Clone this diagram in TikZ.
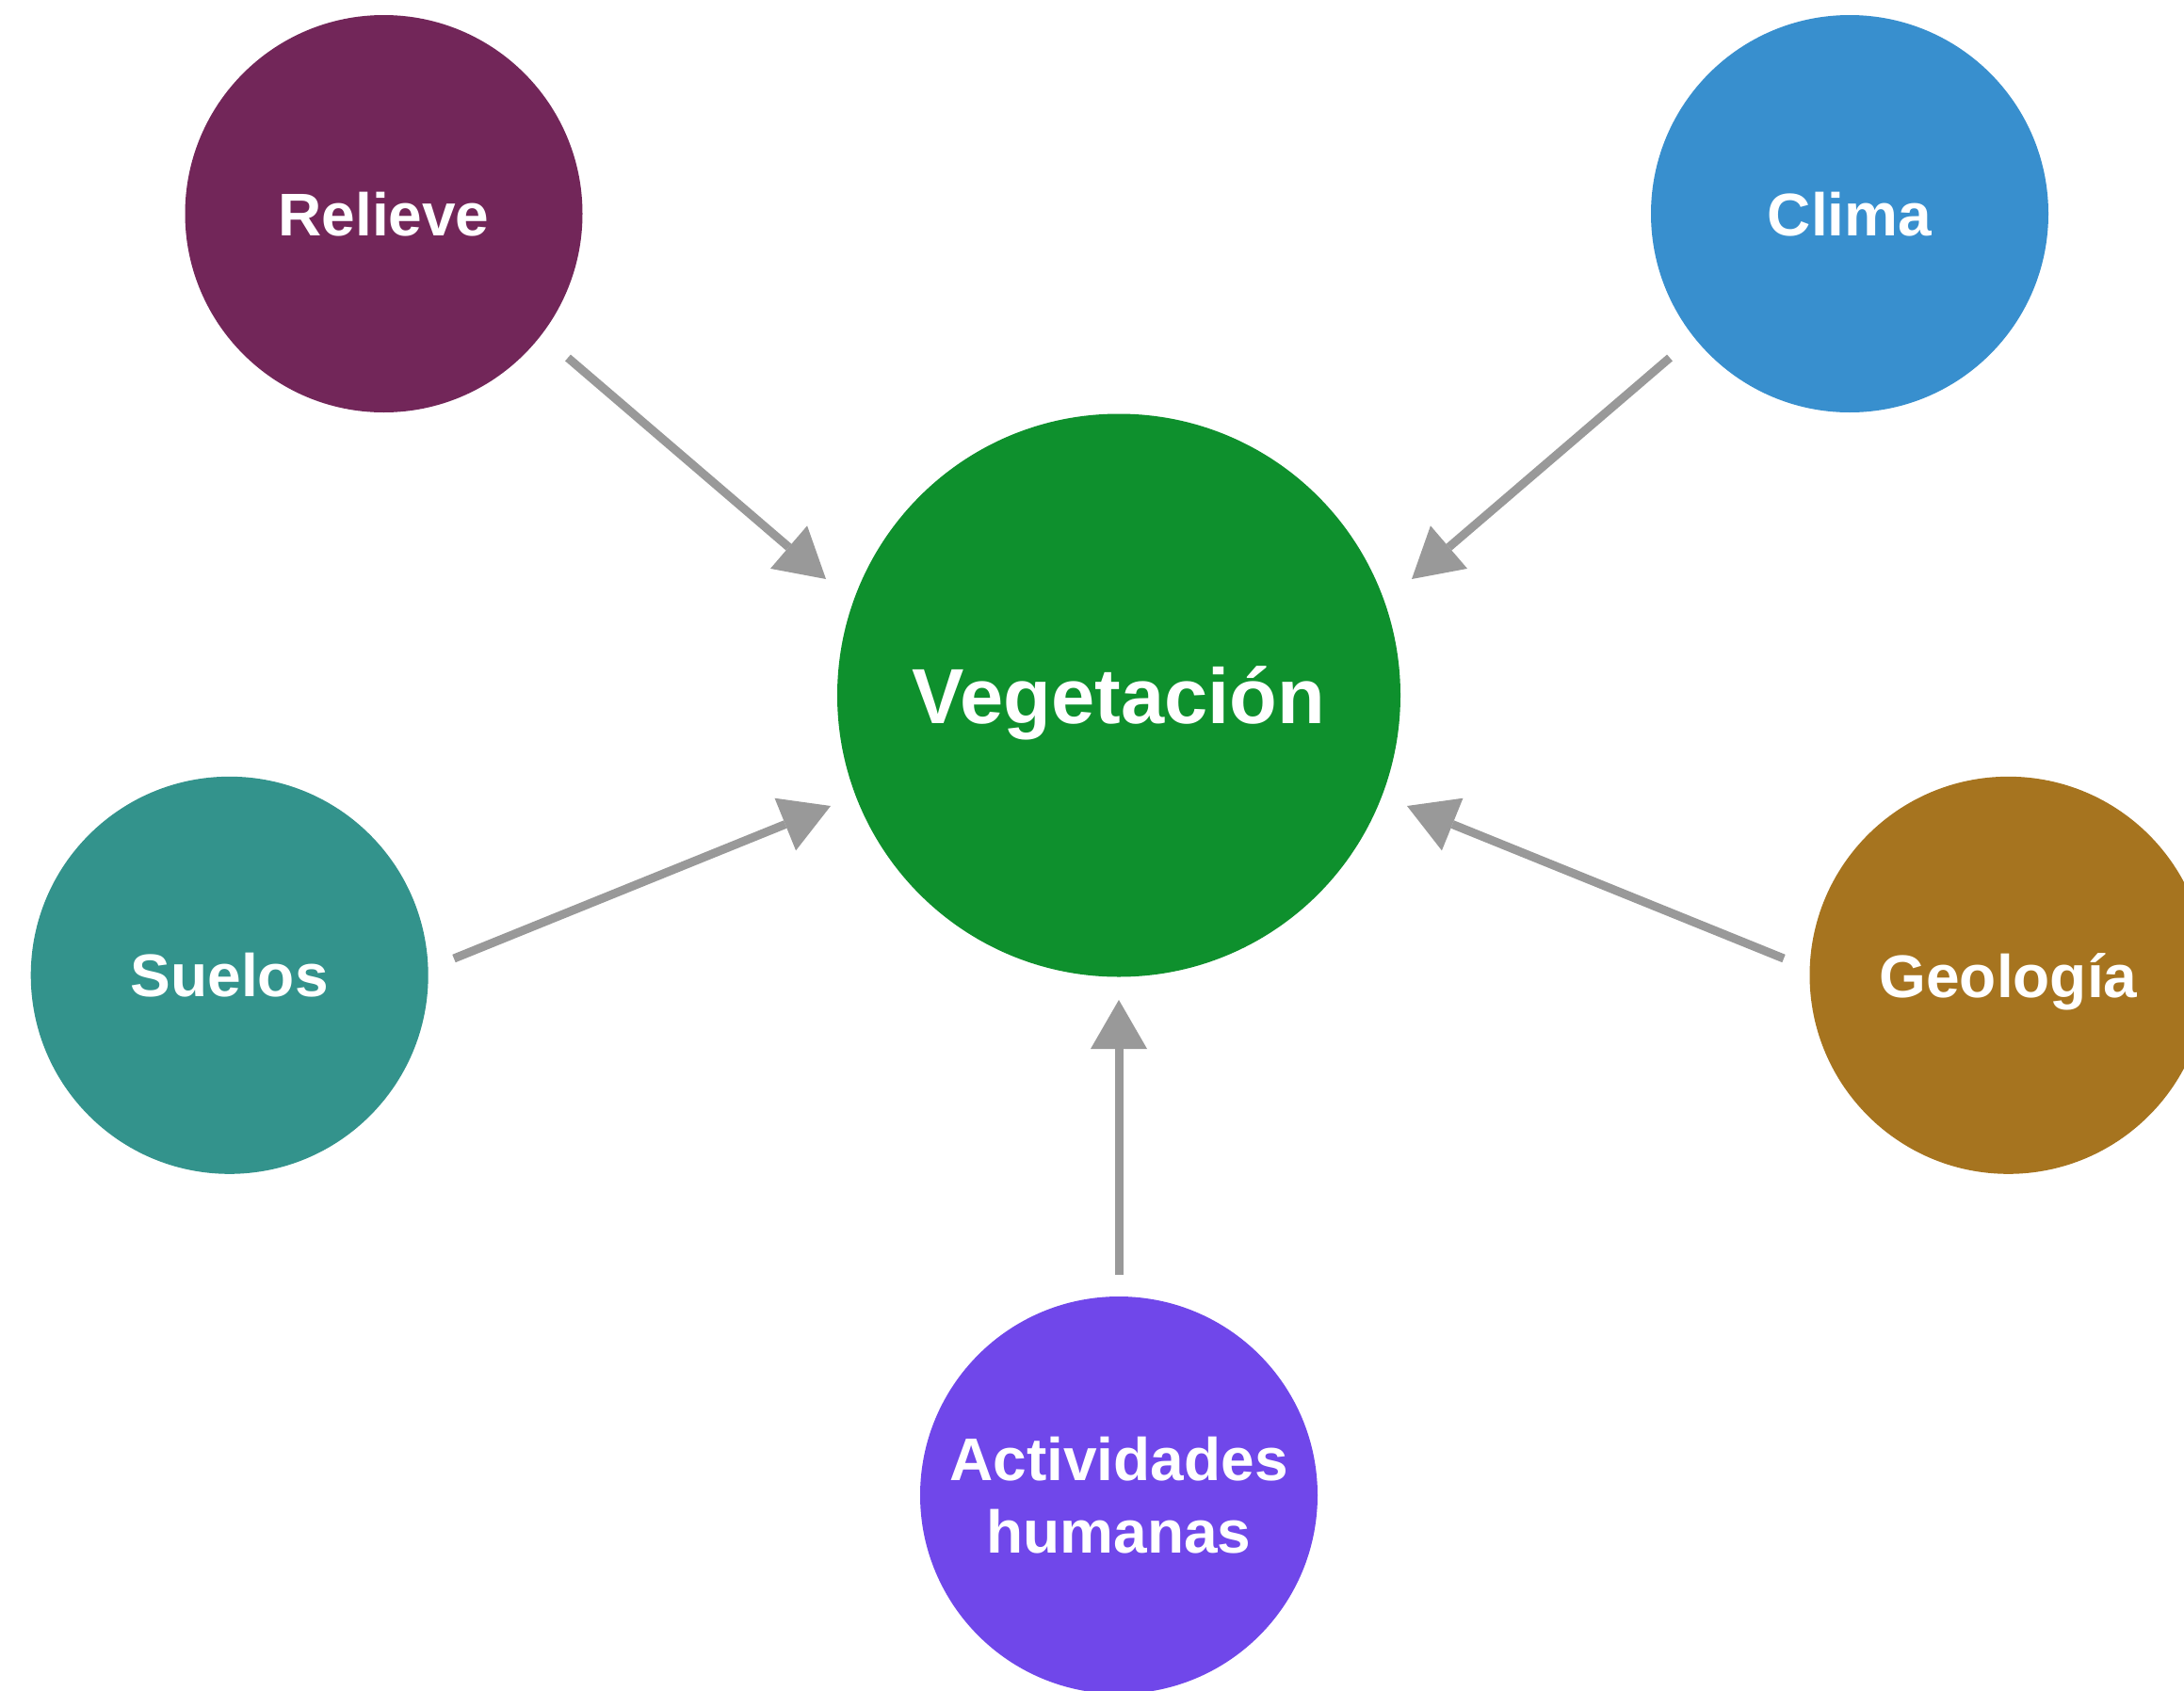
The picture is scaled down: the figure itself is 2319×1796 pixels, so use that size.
\documentclass[tikz,border=0pt]{standalone}
\usepackage{fontspec}
\setmainfont{Liberation Sans}
\usetikzlibrary{arrows.meta,calc}
\definecolor{crel}{HTML}{722659}
\definecolor{ccli}{HTML}{388FCE}
\definecolor{cveg}{HTML}{0E902D}
\definecolor{csue}{HTML}{33938C}
\definecolor{cgeo}{HTML}{A6741F}
\definecolor{cact}{HTML}{7047EA}
\definecolor{cgray}{HTML}{999999}
\begin{document}
\begin{tikzpicture}[x=1pt,y=-1pt,
  bub/.style={circle,inner sep=0pt,minimum size=422pt,text=white,
    font=\fontsize{64}{77}\selectfont\bfseries},
  one/.style={text depth=0pt},
  big/.style={bub,minimum size=598pt,font=\fontsize{83}{100}\selectfont\bfseries},
  arr/.style={line width=9pt,draw=cgray,
    -{Triangle[length=52pt,width=60pt,line width=0pt]}}]
\useasboundingbox (0,0) rectangle (2319,1796);
\clip (0,0) rectangle (2319,1796);
\fill[white] (0,0) rectangle (2319,1796);

\node[bub,one,fill=crel] (rel) at (407.5,227) {Relieve};
\node[bub,one,fill=ccli] (cli) at (1964,227) {Clima};
\node[big,one,fill=cveg] (veg) at (1188,738.5) {Vegetación};
\node[bub,one,fill=csue] (sue) at (243.7,1035.8) {Suelos};
\node[bub,one,fill=cgeo] (geo) at (2132.5,1035.8) {Geología};
\node[bub,fill=cact,align=center] (act) at (1188,1588) {Actividades\\humanas};

\coordinate (s1) at ($(rel)+(195.5,153)$);
\coordinate (t1) at ($(veg)+(-311,-123.5)$);
\coordinate (s2) at ($(cli)+(-191,153)$);
\coordinate (t2) at ($(veg)+(311,-123.5)$);
\coordinate (s3) at ($(sue)+(238.3,-17.8)$);
\coordinate (t3) at ($(veg)+(-306,117.5)$);
\coordinate (s4) at ($(geo)+(-238.5,-17.8)$);
\coordinate (t4) at ($(veg)+(306,117.5)$);
\coordinate (s5) at ($(act)+(0,-234)$);
\coordinate (t5) at ($(veg)+(0,323.5)$);

\draw[arr] (s1) -- (t1);
\draw[arr] (s2) -- (t2);
\draw[arr] (s3) -- (t3);
\draw[arr] (s4) -- (t4);
\draw[arr] (s5) -- (t5);
\end{tikzpicture}
\end{document}
